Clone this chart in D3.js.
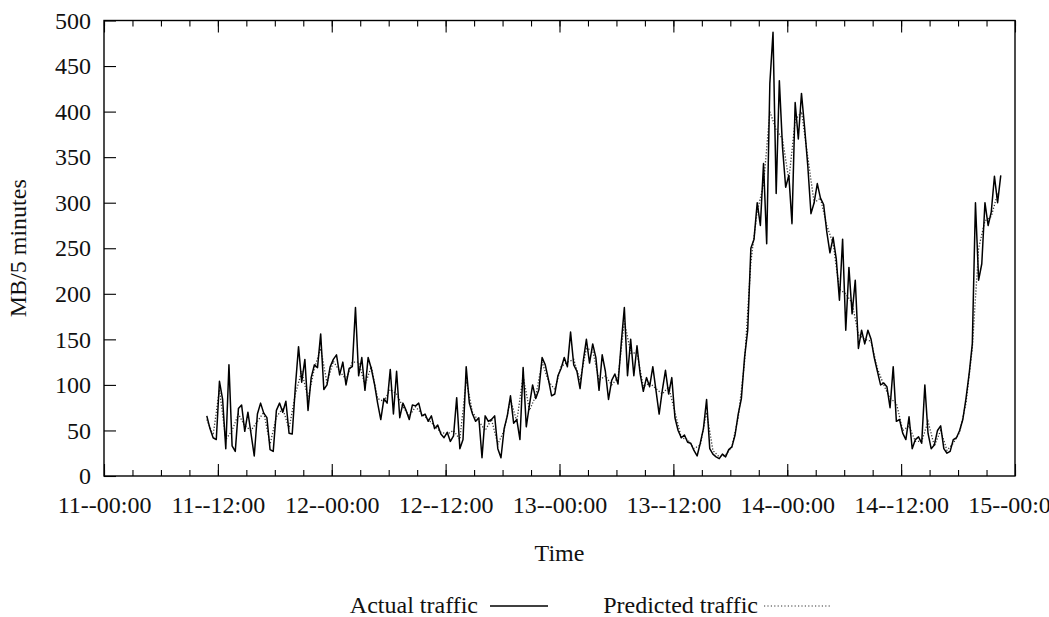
<!DOCTYPE html>
<html lang="en">
	<head>
		<meta charset="utf-8">
		<title>Traffic prediction</title>
		<script type="text/javascript" src="https://d3js.org/d3.v7.min.js"></script>
		<style type="text/css">
			body { margin: 0; background: #fff; }
			text { font-family: "Liberation Serif", "Times New Roman", serif; fill: #111; }
		</style>
	</head>
	<body>

		<script type="text/javascript">

			// 5-minute traffic, every 20 min starting 11--10:50
			var actualStart = Date.UTC(2000, 0, 11, 10, 50);
			var actualStepMin = 20;
			var actualTraffic = [
				66, 52, 42, 40, 104, 84, 30, 122, 33, 27,
				74, 78, 49, 70, 46, 22, 68, 80, 69, 64,
				29, 27, 72, 80, 70, 82, 47, 46, 98, 142,
				103, 128, 72, 108, 122, 119, 156, 95, 100, 120,
				128, 133, 111, 125, 100, 118, 120, 185, 110, 130,
				94, 130, 118, 101, 80, 62, 85, 80, 117, 68,
				115, 64, 80, 72, 62, 78, 77, 80, 66, 68,
				60, 66, 52, 56, 46, 42, 48, 38, 44, 86,
				30, 40, 120, 80, 68, 60, 64, 20, 66, 60,
				62, 66, 30, 20, 52, 66, 88, 58, 62, 40,
				119, 54, 78, 100, 85, 95, 130, 122, 106, 88,
				90, 110, 118, 130, 120, 158, 122, 115, 96, 126,
				150, 124, 145, 130, 94, 133, 115, 84, 105, 112,
				101, 145, 185, 110, 150, 110, 143, 112, 93, 108,
				98, 120, 94, 68, 94, 116, 90, 108, 64, 50,
				42, 45, 37, 36, 28, 22, 36, 52, 84, 30,
				24, 21, 19, 24, 21, 29, 32, 45, 68, 85,
				130, 160, 250, 260, 300, 275, 343, 255, 431, 487,
				310, 434, 361, 317, 330, 277, 410, 370, 420, 382,
				340, 288, 300, 321, 305, 298, 268, 245, 262, 238,
				193, 260, 160, 229, 178, 215, 140, 160, 145, 160,
				150, 130, 115, 100, 102, 98, 75, 120, 60, 62,
				47, 40, 65, 30, 40, 43, 36, 100, 47, 30,
				34, 50, 55, 30, 25, 27, 40, 42, 50, 62,
				85, 112, 145, 300, 215, 233, 300, 275, 290, 329,
				300, 330
			];

			// predicted curve, read every 40 min from the same start
			var predictedStart = Date.UTC(2000, 0, 11, 10, 50);
			var predictedStepMin = 40;
			var predictedTraffic = [
				62, 45, 95, 40, 50, 68, 55, 50, 60, 70,
				35, 65, 74, 52, 90, 115, 85, 118, 140, 102,
				126, 115, 106, 125, 125, 100, 120, 85, 82, 95,
				90, 76, 66, 76, 68, 62, 55, 48, 46, 50,
				40, 105, 70, 60, 50, 62, 35, 50, 84, 60,
				110, 72, 88, 125, 104, 95, 120, 125, 128, 105,
				140, 138, 105, 110, 100, 108, 170, 135, 135, 98,
				102, 96, 90, 98, 70, 42, 40, 30, 34, 70,
				28, 21, 23, 32, 64, 125, 235, 290, 320, 400,
				380, 370, 325, 390, 400, 350, 300, 305, 275, 255,
				205, 200, 190, 155, 150, 148, 118, 100, 85, 80,
				50, 55, 38, 38, 60, 33, 50, 28, 36, 48,
				80, 140, 250, 280, 285, 310
			];

			var yTicks = [0, 50, 100, 150, 200, 250, 300, 350, 400, 450, 500];
			var xStart = Date.UTC(2000, 0, 11, 0, 0);
			var xEnd = Date.UTC(2000, 0, 15, 0, 0);

			var w = 1049;
			var h = 617;
			var margin = {top: 20.5, right: 34, bottom: 141, left: 104};
			var iw = w - margin.left - margin.right;
			var ih = h - margin.top - margin.bottom;
			var fs = "24px";

			var svg = d3.select("body")
			            .append("svg")
			            .attr("width", w)
			            .attr("height", h);

			var actual = actualTraffic.map(function(v, i) {
				return {t: new Date(actualStart + i * actualStepMin * 60000), v: v};
			});
			var predicted = predictedTraffic.map(function(v, i) {
				return {t: new Date(predictedStart + i * predictedStepMin * 60000), v: v};
			});

			var xScale = d3.scaleUtc()
			               .domain([new Date(xStart), new Date(xEnd)])
			               .range([0, iw]);
			var yScale = d3.scaleLinear()
			               .domain([0, 500])
			               .range([ih, 0]);

			var g = svg.append("g")
			           .attr("transform", "translate(" + margin.left + "," + margin.top + ")");

			var fmt = d3.utcFormat("%d--%H:%M");

			// minor ticks every 3 hours, bottom and top
			g.append("g")
			 .attr("class", "x-minor")
			 .attr("transform", "translate(0," + ih + ")")
			 .call(d3.axisBottom(xScale).ticks(d3.utcHour.every(3)).tickSize(-6).tickFormat(""));
			g.append("g")
			 .attr("class", "x-minor-top")
			 .call(d3.axisTop(xScale).ticks(d3.utcHour.every(3)).tickSize(-6).tickFormat(""));

			// major ticks every 12 hours
			g.append("g")
			 .attr("class", "x-axis")
			 .attr("transform", "translate(0," + ih + ")")
			 .call(d3.axisBottom(xScale).ticks(d3.utcHour.every(12)).tickSize(-12).tickPadding(20).tickFormat(fmt));
			g.append("g")
			 .attr("class", "x-axis-top")
			 .call(d3.axisTop(xScale).ticks(d3.utcHour.every(12)).tickSize(-12).tickFormat(""));

			g.append("g")
			 .attr("class", "y-axis")
			 .call(d3.axisLeft(yScale).tickValues(yTicks).tickSize(-12).tickPadding(13));

			g.selectAll(".domain").remove();
			g.selectAll(".tick line").attr("stroke", "#000").attr("stroke-width", 1.1);
			g.selectAll(".tick text")
			 .style("font-size", fs)
			 .attr("fill", "#111");

			var line = d3.line()
			             .x(function(d) { return xScale(d.t); })
			             .y(function(d) { return yScale(d.v); });

			g.append("path")
			 .datum(predicted)
			 .attr("fill", "none")
			 .attr("stroke", "#333")
			 .attr("stroke-width", 1.3)
			 .attr("stroke-dasharray", "1.2,1.8")
			 .attr("d", line);

			g.append("path")
			 .datum(actual)
			 .attr("fill", "none")
			 .attr("stroke", "#000")
			 .attr("stroke-width", 1.5)
			 .attr("stroke-linejoin", "round")
			 .attr("d", line);

			// frame
			g.append("rect")
			 .attr("x", 0)
			 .attr("y", 0)
			 .attr("width", iw)
			 .attr("height", ih)
			 .attr("fill", "none")
			 .attr("stroke", "#000")
			 .attr("stroke-width", 1.4);

			svg.append("text")
			   .attr("text-anchor", "middle")
			   .attr("transform", "translate(26," + (margin.top + ih / 2) + ")rotate(-90)")
			   .style("font-size", fs)
			   .text("MB/5 minutes");

			svg.append("text")
			   .attr("text-anchor", "middle")
			   .attr("x", margin.left + xScale(new Date(Date.UTC(2000, 0, 13, 0, 0))))
			   .attr("y", 561)
			   .style("font-size", fs)
			   .text("Time");

			// legend
			var legend = svg.append("g").attr("class", "legend");
			legend.append("text")
			      .attr("x", 478)
			      .attr("y", 613)
			      .attr("text-anchor", "end")
			      .style("font-size", fs)
			      .text("Actual traffic");
			legend.append("line")
			      .attr("x1", 490).attr("x2", 548)
			      .attr("y1", 606).attr("y2", 606)
			      .attr("stroke", "#000")
			      .attr("stroke-width", 1.3);
			legend.append("text")
			      .attr("x", 758)
			      .attr("y", 613)
			      .attr("text-anchor", "end")
			      .style("font-size", fs)
			      .text("Predicted traffic");
			legend.append("line")
			      .attr("x1", 764).attr("x2", 832)
			      .attr("y1", 606).attr("y2", 606)
			      .attr("stroke", "#333")
			      .attr("stroke-width", 1.2)
			      .attr("stroke-dasharray", "1.2,2.2");

		</script>
	</body>
</html>
